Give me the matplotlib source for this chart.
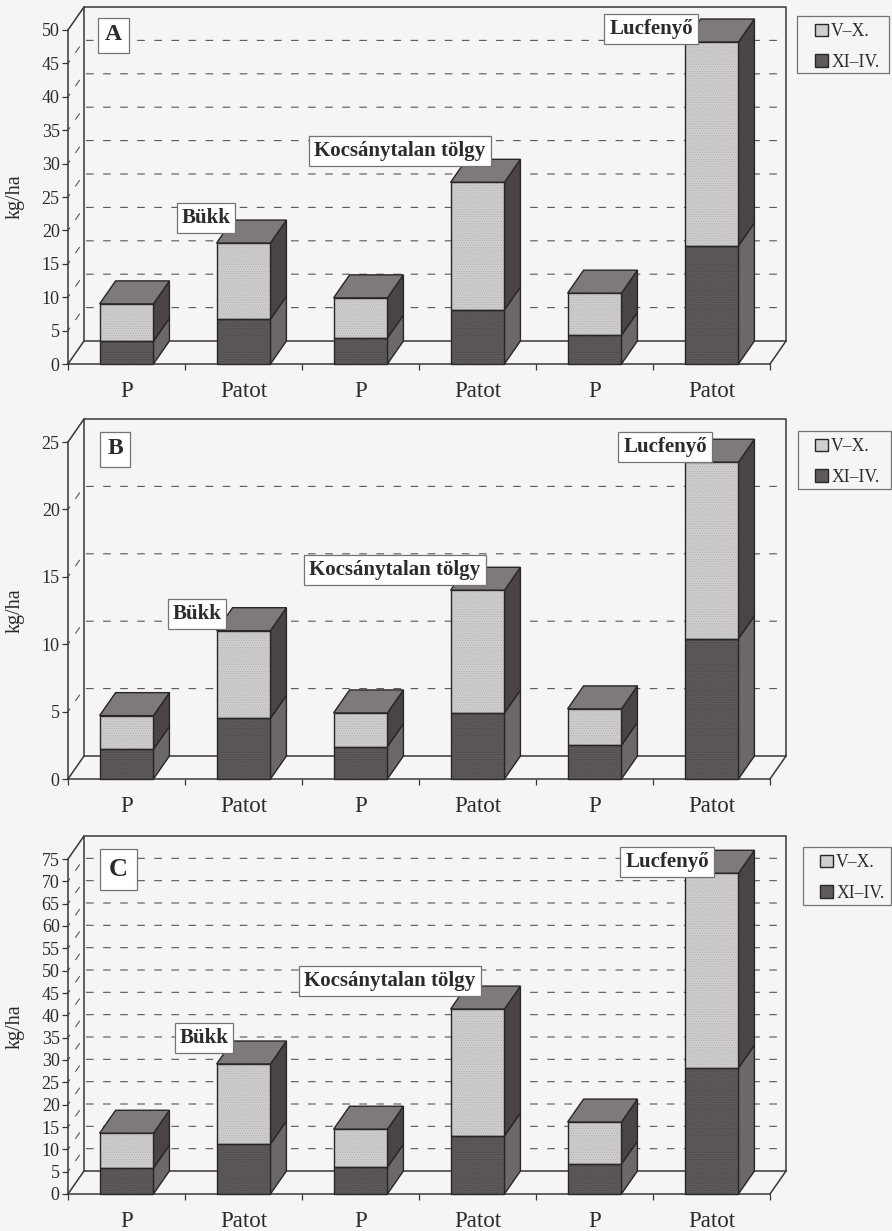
import matplotlib
matplotlib.use("Agg")
import matplotlib.pyplot as plt
from matplotlib.patches import Patch, Rectangle

plt.rcParams["font.family"] = ["Liberation Serif", "DejaVu Serif"]
plt.rcParams["lines.scale_dashes"] = False
plt.rcParams["hatch.linewidth"] = 0.5

W, H = 892, 1231
BG = "#f5f5f3"
LINE = "#3a3636"
LIGHT, DARK = "#cfcecd", "#5f5a5a"
TOP, SIDE_UP, SIDE_LOW = "#7f7a7a", "#4a4444", "#6d6868"

categories = ["P", "Patot", "P", "Patot", "P", "Patot"]

# kg/ha, leolvasva az abrarol
a_xi_iv = [3.4, 6.7, 3.9, 8.1, 4.3, 17.7]
a_v_x = [5.6, 11.4, 6.0, 19.1, 6.3, 30.5]
b_xi_iv = [2.2, 4.5, 2.4, 4.9, 2.5, 10.4]
b_v_x = [2.5, 6.5, 2.5, 9.1, 2.7, 13.1]
c_xi_iv = [5.8, 11.2, 6.0, 13.0, 6.7, 28.2]
c_v_x = [7.8, 17.9, 8.5, 28.4, 9.4, 43.6]

a_ticks = list(range(0, 51, 5))
b_ticks = list(range(0, 26, 5))
c_ticks = list(range(0, 76, 5))


def px_text(fig, x, y, s, **kw):
    fig.text(x / W, 1 - y / H, s, ha="center", va="center", zorder=20, **kw)


def box_label(fig, x, y, s, size=15, pad=5):
    px_text(fig, x, y, s, fontsize=size, fontweight="bold", color="#2e2a2a",
            bbox=dict(boxstyle=f"square,pad={pad / size * 0.72}", fc="white", ec="#777373", lw=0.9))


def panel(fig, top, bottom, ticks, lower, upper):
    left, right = 68, 770
    ax = fig.add_axes([left / W, 1 - bottom / H, (right - left) / W, (bottom - top) / H])
    ax.set_facecolor("none")
    ymax = ticks[-1]
    ax.set_xlim(0, len(categories))
    ax.set_ylim(0, ymax)
    # melyseg adategysegben (16 px jobbra, 23 px fel)
    dx = 16 / 117
    dy = 23 / (bottom - top) * ymax
    n = len(categories)

    # racsvonalak: bal fal + hatso fal
    for v in ticks[1:-1]:
        ax.plot([0, dx, n + dx], [v, v + dy, v + dy], color="#5a5656", lw=0.8,
                ls=(3, (5.5, 6.8)), clip_on=False, zorder=1)

    # keret
    ln = dict(color=LINE, lw=1.1, clip_on=False, zorder=2)
    ax.plot([0, dx, dx], [ymax, ymax + dy, dy], **ln)
    ax.plot([dx, n + dx, n + dx, n], [ymax + dy, ymax + dy, dy, 0], **ln)
    ax.plot([0, dx, n + dx], [0, dy, dy], **ln)

    # oszlopok
    bw = 0.46
    for i in range(n):
        x0 = i + 0.5 - bw / 2
        x1 = x0 + bw
        lo, hi = lower[i], lower[i] + upper[i]
        z = 3 + i
        edge = dict(edgecolor="#2a2626", linewidth=1.0, clip_on=False, zorder=z)
        ax.fill([x1, x1 + dx, x1 + dx, x1], [0, dy, lo + dy, lo], facecolor=SIDE_LOW, **edge)
        ax.fill([x1, x1 + dx, x1 + dx, x1], [lo, lo + dy, hi + dy, hi], facecolor=SIDE_UP, **edge)
        ax.fill([x0, x1, x1 + dx, x0 + dx], [hi, hi, hi + dy, hi + dy], facecolor=TOP, **edge)
        ax.bar(i + 0.5, lo, bw, color=DARK, hatch=".......", edgecolor="#4a4646", linewidth=0, zorder=z)
        ax.bar(i + 0.5, upper[i], bw, bottom=lo, color=LIGHT, hatch=".......", edgecolor="#b4b3b2",
               linewidth=0, zorder=z, clip_on=False)
        ax.bar(i + 0.5, lo, bw, fill=False, **edge)
        ax.bar(i + 0.5, upper[i], bw, bottom=lo, fill=False, **edge)

    for s in ["top", "right"]:
        ax.spines[s].set_visible(False)
    for s in ["left", "bottom"]:
        ax.spines[s].set_color(LINE)
        ax.spines[s].set_linewidth(1.1)
        ax.spines[s].set_zorder(2)
    ax.set_yticks(ticks)
    ax.set_xticks(range(n + 1))
    ax.set_xticklabels([])
    ax.set_xticks([i + 0.5 for i in range(n)], minor=True)
    ax.set_xticklabels(categories, minor=True, fontsize=16.5, color="#2e2a2a")
    ax.tick_params(axis="x", which="minor", length=0, pad=12)
    ax.tick_params(axis="x", which="major", length=4, width=0.9, color=LINE)
    ax.tick_params(axis="y", length=4, width=0.9, color=LINE, labelsize=13, labelcolor="#2e2a2a", pad=2)
    ax.set_ylabel("kg/ha", fontsize=14.5, color="#2e2a2a")
    ax.yaxis.set_label_coords(-43 / (right - left), 0.5)
    return ax


def legend(fig, x0, y0, x1, y1, hx):
    fig.add_artist(Rectangle((x0 / W, 1 - y1 / H), (x1 - x0) / W, (y1 - y0) / H, transform=fig.transFigure,
                             fc=BG, ec="#777373", lw=0.9, zorder=10))
    handles = [Patch(facecolor=LIGHT, edgecolor="#2a2626", label="V–X."),
               Patch(facecolor=DARK, edgecolor="#2a2626", label="XI–IV.")]
    leg = fig.legend(handles=handles, loc="upper left", bbox_to_anchor=(hx / W, 1 - (y0 + 7) / H),
                     borderaxespad=0, borderpad=0, fontsize=12.7, handlelength=0.72, handleheight=0.72,
                     handletextpad=0.2, labelspacing=0.78, frameon=False, labelcolor="#2e2a2a")
    leg.set_zorder(11)


fig = plt.figure(figsize=(W / 100, H / 100), dpi=100, facecolor=BG)

panel(fig, 30, 364, a_ticks, a_xi_iv, a_v_x)
panel(fig, 442, 779, b_ticks, b_xi_iv, b_v_x)
panel(fig, 859, 1194, c_ticks, c_xi_iv, c_v_x)

box_label(fig, 113, 35, "A", size=17, pad=7)
box_label(fig, 206, 218, "Bükk")
box_label(fig, 400, 151, "Kocsánytalan tölgy")
box_label(fig, 651, 29, "Lucfenyő")
legend(fig, 797, 16, 889, 73, 815)

box_label(fig, 115, 449, "B", size=17, pad=7)
box_label(fig, 197, 614, "Bükk")
box_label(fig, 395, 570, "Kocsánytalan tölgy")
box_label(fig, 665, 447, "Lucfenyő")
legend(fig, 798, 431, 891, 489, 815)

box_label(fig, 118, 869, "C", size=19, pad=9)
box_label(fig, 204, 1038, "Bükk")
box_label(fig, 390, 981, "Kocsánytalan tölgy")
box_label(fig, 667, 862, "Lucfenyő")
legend(fig, 803, 847, 891, 905, 820)

fig.savefig("out.png", dpi=100, facecolor=BG)
